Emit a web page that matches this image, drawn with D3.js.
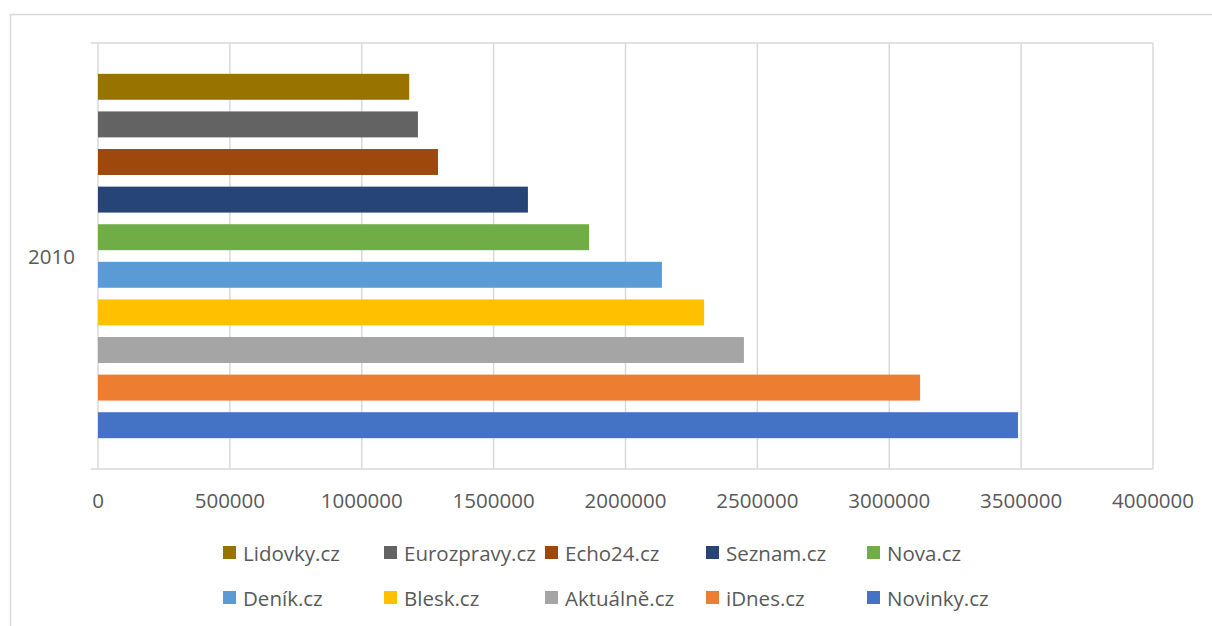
<!DOCTYPE html>
<html>
<head>
<meta charset="utf-8">
<script src="https://cdn.jsdelivr.net/npm/d3@7"></script>
<style>
  body { margin: 0; background: #fff; }
  svg { display: block; font-family: "Open Sans", sans-serif; }
</style>
</head>
<body>
<svg id="chart" width="1212" height="626"></svg>
<script>
const category = "2010"
const sites = ["Lidovky.cz", "Eurozpravy.cz", "Echo24.cz", "Seznam.cz", "Nova.cz",
               "Deník.cz", "Blesk.cz", "Aktuálně.cz", "iDnes.cz", "Novinky.cz"]
const visits = [1180000, 1213000, 1289000, 1630000, 1862000,
                2138000, 2298000, 2449000, 3117000, 3488000]
const colors = ["#997300", "#636363", "#9e480e", "#264478", "#70ad47",
                "#5b9bd5", "#ffc000", "#a5a5a5", "#ed7d31", "#4472c4"]
const ticks = [0, 500000, 1000000, 1500000, 2000000, 2500000, 3000000, 3500000, 4000000]

const svg = d3.select('#chart')
const grid = "#d9d9d9", textCol = "#595959"

// outer chart border (runs off the picture on right and bottom)
svg.append('rect')
    .attr('x', 10.5).attr('y', 14.5)
    .attr('width', 1400).attr('height', 800)
    .attr('fill', 'none').attr('stroke', grid).attr('stroke-width', 1.5)

const plotL = 98, plotR = 1153, plotT = 43, plotB = 469

const x = d3.scaleLinear()
    .domain([0, 4000000])
    .range([plotL, plotR])

const y = d3.scaleBand()
    .domain(sites)
    .range([plotT, plotB])
    .paddingInner(0.31)
    .paddingOuter(0.82)

// vertical gridlines
svg.append('g').selectAll('line')
    .data(ticks)
    .join('line')
    .attr('x1', d => x(d)).attr('x2', d => x(d))
    .attr('y1', plotT).attr('y2', plotB)
    .attr('stroke', grid).attr('stroke-width', 1.5)

// category axis ticks top/bottom
svg.append('g').selectAll('line')
    .data([plotT, plotB])
    .join('line')
    .attr('x1', plotL - 7).attr('x2', plotR)
    .attr('y1', d => d).attr('y2', d => d)
    .attr('stroke', grid).attr('stroke-width', 1.5)

// bars
svg.append('g').selectAll('rect')
    .data(sites)
    .join('rect')
    .attr('x', x(0))
    .attr('y', d => y(d))
    .attr('height', y.bandwidth())
    .attr('width', (d, i) => x(visits[i]) - x(0))
    .attr('fill', (d, i) => colors[i])

// value axis labels
svg.append('g').selectAll('text')
    .data(ticks)
    .join('text')
    .attr('x', d => x(d))
    .attr('y', 507.5)
    .attr('text-anchor', 'middle')
    .attr('font-size', 20.5)
    .attr('fill', textCol)
    .text(d => d3.format('d')(d))

// category label
svg.append('text')
    .attr('x', 75).attr('y', (plotT + plotB) / 2 + 7.5)
    .attr('text-anchor', 'end')
    .attr('font-size', 20.5)
    .attr('fill', textCol)
    .text(category)

// legend: 2 rows of 5
const legend = svg.append('g').selectAll('g')
    .data(sites)
    .join('g')
    .attr('transform', (d, i) => `translate(${223 + (i % 5) * 161}, ${546 + Math.floor(i / 5) * 45})`)

legend.append('rect')
    .attr('width', 13).attr('height', 13)
    .attr('fill', (d, i) => colors[i])

legend.append('text')
    .attr('x', 20).attr('y', 14.5)
    .attr('font-size', 20.5)
    .attr('fill', textCol)
    .text(d => d)
</script>
</body>
</html>
